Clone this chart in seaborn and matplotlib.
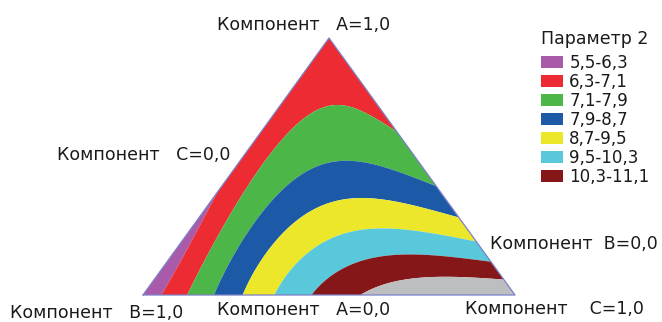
import numpy as np
import matplotlib
matplotlib.use("Agg")
import matplotlib.pyplot as plt
import matplotlib.tri as mtri
from matplotlib.patches import Patch
import seaborn as sns

# Simplex-lattice {4,3} design: fractions of components A and C (B = 1 - A - C)
# and the response "Параметр 2" measured at each blend
comp_a = [0, 0, 0, 0, 0, 0.25, 0.25, 0.25, 0.25, 0.5, 0.5, 0.5, 0.75, 0.75, 1.0]
comp_c = [0, 0.25, 0.5, 0.75, 1.0, 0, 0.25, 0.5, 0.75, 0, 0.25, 0.5, 0, 0.25, 0]
param2 = [5.73, 8.52, 10.62, 11.69, 11.86, 6.02, 8.65, 9.56, 9.12,
          6.46, 7.97, 7.53, 6.68, 6.92, 6.81]

# Contour bands of the response surface
band_edges = [5.5, 6.3, 7.1, 7.9, 8.7, 9.5, 10.3, 11.1, 11.9]
band_colors = ["#A95BA9", "#EC2B33", "#4CB748", "#1C5AA8",
               "#ECE72B", "#58C8DA", "#861719", "#BCBEC0"]
legend_bands = 7  # the top (grey) band is not listed in the legend

sns.set_theme(style="white")
plt.rcParams["font.family"] = ["DejaVu Sans"]
palette = sns.color_palette(band_colors)

DEG = 4


def mixture_terms(a, c):
    a = np.asarray(a, float)
    c = np.asarray(c, float)
    return np.stack([a ** i * c ** j for i in range(DEG + 1) for j in range(DEG + 1 - i)], axis=-1)


# Quartic mixture model passing through the lattice responses
coef = np.linalg.solve(mixture_terms(comp_a, comp_c), np.asarray(param2, float))

# Fine evaluation mesh over the simplex
m = 180
ga, gc = [], []
for i in range(m + 1):
    for j in range(m + 1 - i):
        ga.append(i / m)
        gc.append(j / m)
ga = np.array(ga)
gc = np.array(gc)
gz = mixture_terms(ga, gc) @ coef

# Ternary -> Cartesian: A at the top, B bottom-left, C bottom-right
tri = mtri.Triangulation(gc + 0.5 * ga, ga)

W, H = 662, 322
fig = plt.figure(figsize=(W / 100, H / 100), dpi=100)
fig.patch.set_facecolor("white")
ax = fig.add_axes([143 / W, 27 / H, 372 / W, 257 / H])
ax.set_xlim(0, 1)
ax.set_ylim(0, 1)
ax.axis("off")

ax.tricontourf(tri, gz, levels=band_edges, colors=palette, antialiased=True)
ax.plot([0, 0.5, 1, 0], [0, 1, 0, 0], color="#7b80c6", lw=0.9, clip_on=False)

txt_kw = dict(fontsize=12.5, color="#1a1a1a", va="center", ha="left")


def put(x, y, s):
    fig.text(x / W, 1 - y / H, s, **txt_kw)


put(217, 24.5, "Компонент   A=1,0")
put(57, 154.5, "Компонент   C=0,0")
put(490, 244, "Компонент  B=0,0")
put(10, 313, "Компонент   B=1,0")
put(217, 310, "Компонент   A=0,0")
put(465, 308.5, "Компонент    C=1,0")


def fmt(v):
    return f"{v:.1f}".replace(".", ",")


handles = [Patch(facecolor=palette[k], edgecolor="none") for k in range(legend_bands)]
labels = [f"{fmt(band_edges[k])}-{fmt(band_edges[k + 1])}" for k in range(legend_bands)]
leg = fig.legend(handles, labels, loc="upper left", bbox_to_anchor=(541 / W, 1 - 30 / H),
                 frameon=False, fontsize=12, title="Параметр 2", title_fontsize=12.5,
                 handlelength=1.3, handleheight=0.72, handletextpad=0.4,
                 labelspacing=0.06, borderpad=0, borderaxespad=0, alignment="left")
# a little more room between the title and the first entry
leg._legend_box.sep = 4.2
for t in leg.get_texts():
    t.set_color("#1a1a1a")
leg.get_title().set_color("#1a1a1a")

fig.savefig("out.png", dpi=100)
